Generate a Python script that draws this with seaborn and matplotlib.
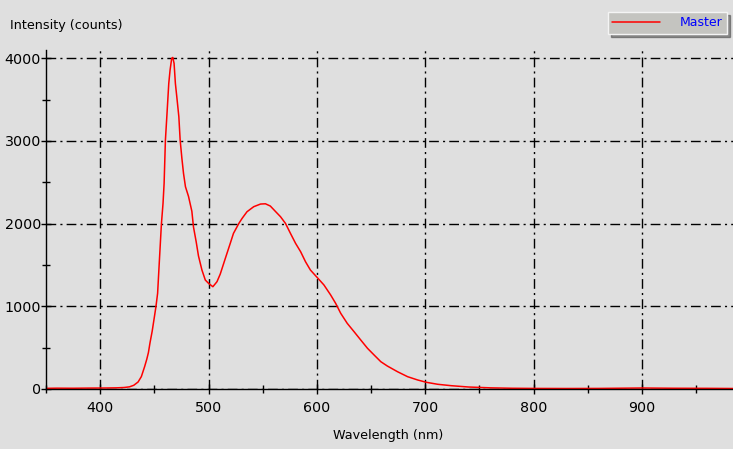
import matplotlib
matplotlib.use("Agg")
from matplotlib import pyplot as plt
from matplotlib.ticker import MultipleLocator
import pandas as pd
import seaborn as sns

# spectrum
wavelength = [350, 360, 375, 390, 405, 415, 422, 427, 431, 435, 438, 441, 443,
              444.5, 446, 448, 450, 451.5, 453, 454.5, 456.5, 458, 459, 460.2,
              461.5, 463.3, 464.5, 466, 467, 468.2, 469.4, 470.7, 472.6, 473.8,
              475.4, 476.9, 478.7, 481.5, 484.6, 486.1, 488.6, 490.7, 493.9, 497,
              500, 504, 507.8, 510.8, 515.5, 520, 523, 528, 531, 535.5, 541.7,
              548, 552.5, 557, 562, 566.4, 571, 575.6, 580.3, 585, 589.5, 594,
              601, 606.5, 612.7, 617.3, 622, 628, 634.3, 640.5, 646.7, 652.8,
              659, 665, 674.4, 683.7, 693, 701, 711.5, 724, 740, 760, 780, 800,
              830, 860, 900, 930, 960, 984]
intensity = [8, 10, 9, 11, 12, 14, 18, 26, 45, 85, 150, 270, 360,
             440, 560, 700, 870, 1000, 1157, 1520, 1995, 2245, 2487, 3011,
             3293, 3696, 3857, 3999, 4010, 3938, 3696, 3535, 3293, 3011,
             2790, 2608, 2446, 2330, 2150, 1960, 1780, 1610, 1439, 1318,
             1278, 1237, 1298, 1390, 1580, 1760, 1882, 2003, 2064, 2144, 2205,
             2237, 2240, 2213, 2144, 2084, 2003, 1882, 1762, 1660, 1539, 1439,
             1338, 1258, 1137, 1036, 915, 794, 693, 592, 492, 411,
             330, 278, 209, 149, 109, 81, 57, 40, 24, 14, 9, 7,
             6, 7, 12, 9, 8, 6]

x_ticks = [400, 500, 600, 700, 800, 900]
y_ticks = [0, 1000, 2000, 3000, 4000]
series_name = "Master"

df = pd.DataFrame({"Wavelength": wavelength, "Intensity": intensity})

bg = "#dfdfdf"
sns.set_style("ticks", {"axes.facecolor": bg, "figure.facecolor": bg})
plt.rcParams["font.family"] = ["DejaVu Sans"]
plt.rcParams["text.color"] = "black"

fig = plt.figure(figsize=(7.33, 4.49), dpi=100)
ax = fig.add_axes([46 / 733, 60 / 449, 687 / 733, 339 / 449])

sns.lineplot(data=df, x="Wavelength", y="Intensity", ax=ax, color="red",
             linewidth=1.1, label=series_name)

ax.set_xlim(350, 984)
ax.set_ylim(0, 4100)
ax.set_xticks(x_ticks)
ax.set_yticks(y_ticks)
ax.xaxis.set_minor_locator(MultipleLocator(50))
ax.yaxis.set_minor_locator(MultipleLocator(500))
ax.tick_params(which="major", direction="inout", length=7, width=1,
               labelsize=10.3, colors="black", labelcolor="black", pad=0)
ax.tick_params(which="minor", direction="inout", length=6, width=1,
               colors="black")
ax.tick_params(axis="x", pad=5)

for s in ["top", "right"]:
    ax.spines[s].set_visible(False)
for s in ["left", "bottom"]:
    ax.spines[s].set_color("black")
    ax.spines[s].set_linewidth(1)

ax.grid(True, which="major", color="black", linewidth=1,
        linestyle=(0, (7, 3, 1.5, 3)))
ax.set_axisbelow(True)

ax.set_xlabel("")
ax.set_ylabel("")
fig.text(10 / 733, 1 - 26 / 449, "Intensity (counts)", fontsize=9.2,
         ha="left", va="center", color="black")
fig.text(388 / 733, 1 - 435 / 449, "Wavelength (nm)", fontsize=9.2,
         ha="center", va="center", color="black")

leg = ax.legend(loc="upper right", bbox_to_anchor=(727 / 733, 1 - 12 / 449),
                bbox_transform=fig.transFigure, fontsize=9, frameon=True,
                fancybox=False, shadow=True, borderpad=0.35,
                handlelength=3.8, handletextpad=1.6, borderaxespad=0)
leg.get_frame().set_facecolor("#c4c4c0")
leg.get_frame().set_edgecolor("#f4f4f4")
leg.get_frame().set_linewidth(1)
for t in leg.get_texts():
    t.set_color("blue")

fig.savefig("out.png", dpi=100, facecolor=bg)
